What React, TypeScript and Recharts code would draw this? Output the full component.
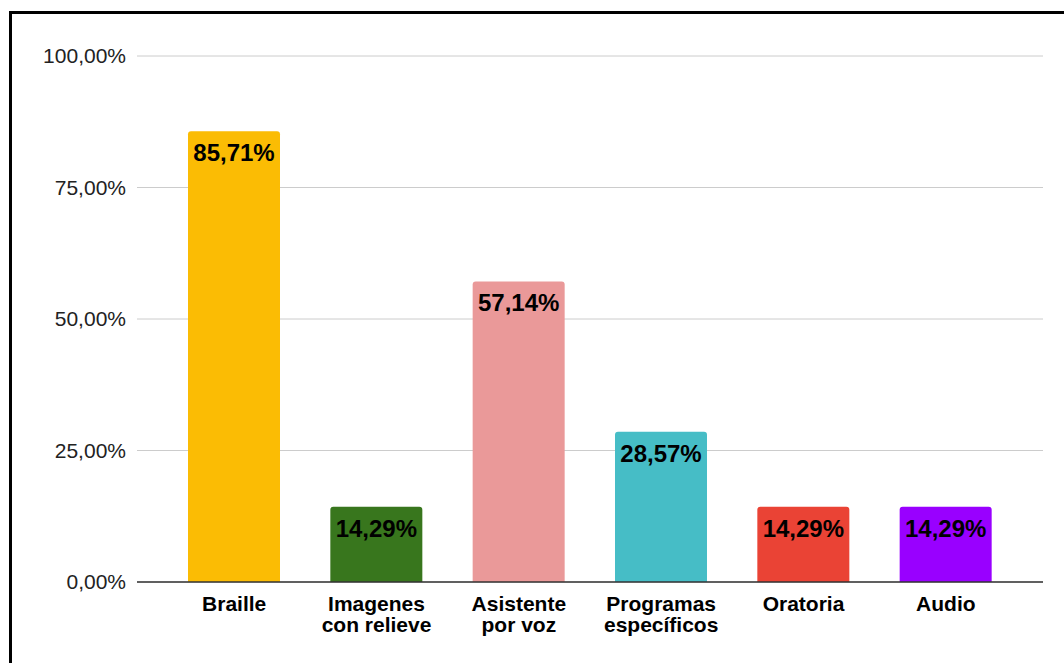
import React from 'react';
import { BarChart, Bar, XAxis, YAxis, CartesianGrid, Cell, LabelList } from 'recharts';

const categories = ['Braille', 'Imagenes con relieve', 'Asistente por voz', 'Programas específicos', 'Oratoria', 'Audio'];
const categoryLines = [['Braille'], ['Imagenes', 'con relieve'], ['Asistente', 'por voz'], ['Programas', 'específicos'], ['Oratoria'], ['Audio']];
const values = [85.71, 14.29, 57.14, 28.57, 14.29, 14.29];
const colors = ['#FBBC04', '#38761D', '#EA9999', '#46BDC6', '#EA4335', '#9900FF'];
const yTicks = [0, 25, 50, 75, 100];

const data = categories.map((c, i) => ({ name: c, value: values[i], idx: i }));

const fmt = (v: number) => v.toFixed(2).replace('.', ',') + '%';

const FONT = '"Liberation Sans", Arial, sans-serif';

const XTick = (props: any) => {
  const { x, y, payload } = props;
  const idx = categories.indexOf(payload.value);
  const lines = categoryLines[idx] || [payload.value];
  return (
    <text x={x} y={y} textAnchor="middle" fontFamily={FONT} fontSize={21} fontWeight="bold" fill="#000">
      {lines.map((l, i) => (
        <tspan key={i} x={x} dy={i === 0 ? 29 : 21}>{l}</tspan>
      ))}
    </text>
  );
};

const BarLabel = (props: any) => {
  const { x, y, width, value } = props;
  return (
    <text x={x + width / 2} y={y + 30} textAnchor="middle" fontFamily={FONT} fontSize={24} fontWeight="bold" fill="#000">
      {fmt(value)}
    </text>
  );
};

export default function App() {
  return (
    <div style={{ position: 'fixed', left: 0, top: 0, width: 1064, height: 663, overflow: 'hidden', background: '#fff' }}>
      <div style={{ position: 'absolute', left: 9, top: 11, width: 1100, height: 700, borderTop: '3px solid #000', borderLeft: '3px solid #000' }} />
      <div style={{ position: 'absolute', left: 0, top: 0 }}>
        <BarChart width={1064} height={663} data={data} margin={{ top: 56, right: 21, bottom: 20, left: 0 }}>
          <CartesianGrid vertical={false} stroke="#cccccc" strokeWidth={1} />
          <XAxis
            dataKey="name"
            interval={0}
            height={61}
            tickLine={false}
            tickSize={0}
            tickMargin={0}
            axisLine={{ stroke: '#333', strokeWidth: 1.5 }}
            padding={{ left: 26, right: 26 }}
            tick={<XTick />}
          />
          <YAxis
            width={137}
            domain={[0, 100]}
            ticks={yTicks}
            tickFormatter={fmt}
            axisLine={false}
            tickLine={false}
            tickSize={0}
            tickMargin={11}
            tick={{ fontFamily: FONT, fontSize: 21, fill: '#222' }}
          />
          <Bar dataKey="value" barSize={92} radius={[3, 3, 0, 0]} isAnimationActive={false}>
            {data.map((d, i) => (
              <Cell key={i} fill={colors[i]} />
            ))}
            <LabelList dataKey="value" content={<BarLabel />} />
          </Bar>
        </BarChart>
      </div>
    </div>
  );
}
